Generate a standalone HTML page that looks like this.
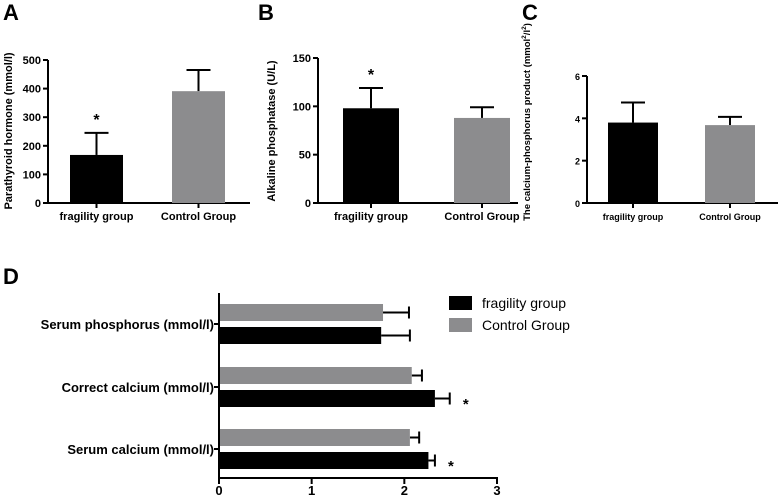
<!DOCTYPE html>
<html><head><meta charset="utf-8"><style>
html,body{margin:0;padding:0;background:#fff;}
svg{display:block;font-family:"Liberation Sans",Arial,sans-serif;}
</style></head><body>
<svg id="fig" width="778" height="500" viewBox="0 0 778 500" xmlns="http://www.w3.org/2000/svg">
<text x="3" y="20" font-size="22" font-weight="bold">A</text>
<text x="258" y="20" font-size="22" font-weight="bold">B</text>
<text x="522" y="20" font-size="22" font-weight="bold">C</text>
<text x="3" y="284" font-size="22" font-weight="bold">D</text>
</svg>
<script>
const NS="http://www.w3.org/2000/svg";
const svg=document.getElementById('fig');
function mk(tag,attrs,parent){const e=document.createElementNS(NS,tag);for(const k in attrs)e.setAttribute(k,attrs[k]);(parent||svg).appendChild(e);return e;}

const groups=["fragility group","Control Group"];
const aValues=[168,391];
const aErrors=[245,465];
const aTicks=[0,100,200,300,400,500];
const bValues=[98,88];
const bErrors=[119,99];
const bTicks=[0,50,100,150];
const cValues=[3.8,3.68];
const cErrors=[4.75,4.07];
const cTicks=[0,2,4,6];
const sigFlags=[true,false];
const dCategories=["Serum phosphorus (mmol/l)","Correct calcium (mmol/l)","Serum calcium (mmol/l)"];
const dControl=[1.77,2.08,2.06];
const dControlErr=[2.05,2.19,2.16];
const dFragility=[1.75,2.33,2.26];
const dFragilityErr=[2.06,2.49,2.33];
const dSig=[false,true,true];
const dTicks=[0,1,2,3];
const colors=["#000000","#8c8c8e"];

function vbar(cfg){
  const g=mk('g',{});
  
  
  const y=v=>cfg.y0-(v-0)/(cfg.max)*(cfg.y0-cfg.yTop);
  const ax=mk('line',{x1:cfg.ax,y1:cfg.yTop,x2:cfg.ax,y2:cfg.y0+1,stroke:'#000','stroke-width':2},g);
  
  
  const xa=mk('line',{x1:cfg.ax-1,y1:cfg.y0,x2:cfg.axEnd,y2:cfg.y0,stroke:'#000','stroke-width':2},g);
  
  
  cfg.ticks.forEach(t=>{
    mk('line',{x1:cfg.ax-5,y1:y(t),x2:cfg.ax,y2:y(t),stroke:'#000','stroke-width':2},g);
    const tl=mk('text',{x:cfg.ax-7,y:y(t)+4,'font-size':cfg.fs,'font-weight':'bold','text-anchor':'end'},g);
    tl.textContent=t;
    
    
  });
  groups.forEach((gname,i)=>{
    const x0=cfg.barX[i],w=cfg.barW;
    const cx=x0+w/2;
    mk('line',{x1:cx,y1:y(cfg.vals[i]),x2:cx,y2:y(cfg.errs[i]),stroke:'#000','stroke-width':2},g);
    mk('line',{x1:cx-12,y1:y(cfg.errs[i]),x2:cx+12,y2:y(cfg.errs[i]),stroke:'#000','stroke-width':2},g);
    const b=mk('rect',{x:x0,y:y(cfg.vals[i]),width:w,height:cfg.y0-y(cfg.vals[i]),fill:colors[i]},g);
    
    
    mk('line',{x1:cx,y1:cfg.y0,x2:cx,y2:cfg.y0+5,stroke:'#000','stroke-width':2},g);
    const l=mk('text',{x:cx,y:cfg.y0+17,'font-size':cfg.fs,'font-weight':'bold','text-anchor':'middle'},g);
    l.textContent=gname;
    
    
    if(cfg.sig&&sigFlags[i]){
      const s=mk('text',{x:cx,y:y(cfg.errs[i])-8,'font-size':16,'font-weight':'bold','text-anchor':'middle'},g);
      s.textContent='*';
      
      
    }
  });
  const tt=mk('text',{x:0,y:0,'font-size':cfg.tfs,'font-weight':'bold','text-anchor':'middle',transform:`translate(${cfg.tx},${cfg.ty}) rotate(-90)`},g);
  tt.innerHTML=cfg.title;
  
  
}
vbar({name:'panel-a-chart',ax:48,axEnd:250,y0:203,yTop:60,max:500,ticks:aTicks,vals:aValues,errs:aErrors,barX:[70,172],barW:53,fs:11,tfs:11,tx:12,ty:131,title:'Parathyroid hormone (mmol/l)',sig:true});
vbar({name:'panel-b-chart',ax:318,axEnd:518,y0:203,yTop:58,max:150,ticks:bTicks,vals:bValues,errs:bErrors,barX:[343,454],barW:56,fs:11,tfs:11,tx:275,ty:131,title:'Alkaline phosphatase (U/L)',sig:true});
vbar({name:'panel-c-chart',ax:587,axEnd:778,y0:203,yTop:76,max:6,ticks:cTicks,vals:cValues,errs:cErrors,barX:[608,705],barW:50,fs:9,tfs:9.5,tx:530,ty:122,title:'The calcium-phosphorus product (mmol<tspan font-size="6.5" dy="-4">2</tspan><tspan dy="4">/l</tspan><tspan font-size="6.5" dy="-4">2</tspan><tspan dy="4">)</tspan>',sig:false});

(function(){
  const g=mk('g',{});
  
  
  const x0=219,x3=497;
  const x=v=>x0+v/3*(x3-x0);
  const yBot=478, yTop=293;
  const centers=[324,387,449];
  const ya=mk('line',{x1:x0,y1:yTop,x2:x0,y2:yBot+1,stroke:'#000','stroke-width':2},g);
  
  
  const xa=mk('line',{x1:x0-1,y1:yBot,x2:x3+1,y2:yBot,stroke:'#000','stroke-width':2},g);
  
  
  dTicks.forEach(t=>{
    mk('line',{x1:x(t),y1:yBot,x2:x(t),y2:yBot+6,stroke:'#000','stroke-width':2},g);
    const tl=mk('text',{x:x(t),y:yBot+17,'font-size':13,'font-weight':'bold','text-anchor':'middle'},g);
    tl.textContent=t;
    
    
  });
  dCategories.forEach((c,i)=>{
    const cy=centers[i];
    mk('line',{x1:x0-5,y1:cy,x2:x0,y2:cy,stroke:'#000','stroke-width':2},g);
    const l=mk('text',{x:x0-5,y:cy+5,'font-size':13,'font-weight':'bold','text-anchor':'end'},g);
    l.textContent=c;
    
    
    const rows=[[dControl[i],dControlErr[i],colors[1],cy-20,'bar-control'],[dFragility[i],dFragilityErr[i],colors[0],cy+3,'bar-fragility']];
    rows.forEach(r=>{
      const mid=r[3]+8.5;
      mk('line',{x1:x(r[0]),y1:mid,x2:x(r[1]),y2:mid,stroke:'#000','stroke-width':2},g);
      mk('line',{x1:x(r[1]),y1:mid-6,x2:x(r[1]),y2:mid+6,stroke:'#000','stroke-width':2},g);
      const b=mk('rect',{x:x0+1,y:r[3],width:x(r[0])-x0-1,height:17,fill:r[2]},g);
      
      
    });
    if(dSig[i]){
      const s=mk('text',{x:x(dFragilityErr[i])+16,y:cy+22,'font-size':15,'font-weight':'bold','text-anchor':'middle'},g);
      s.textContent='*';
      
      
    }
  });
  const legend=mk('g',{},g);
  
  
  groups.forEach((n,i)=>{
    const e=mk('g',{},legend);
    
    
    mk('rect',{x:449,y:296+i*22,width:23,height:14,fill:colors[i]},e);
    const t=mk('text',{x:482,y:308+i*22,'font-size':14},e);
    t.textContent=n;
  });
})();
</script>
</body></html>
